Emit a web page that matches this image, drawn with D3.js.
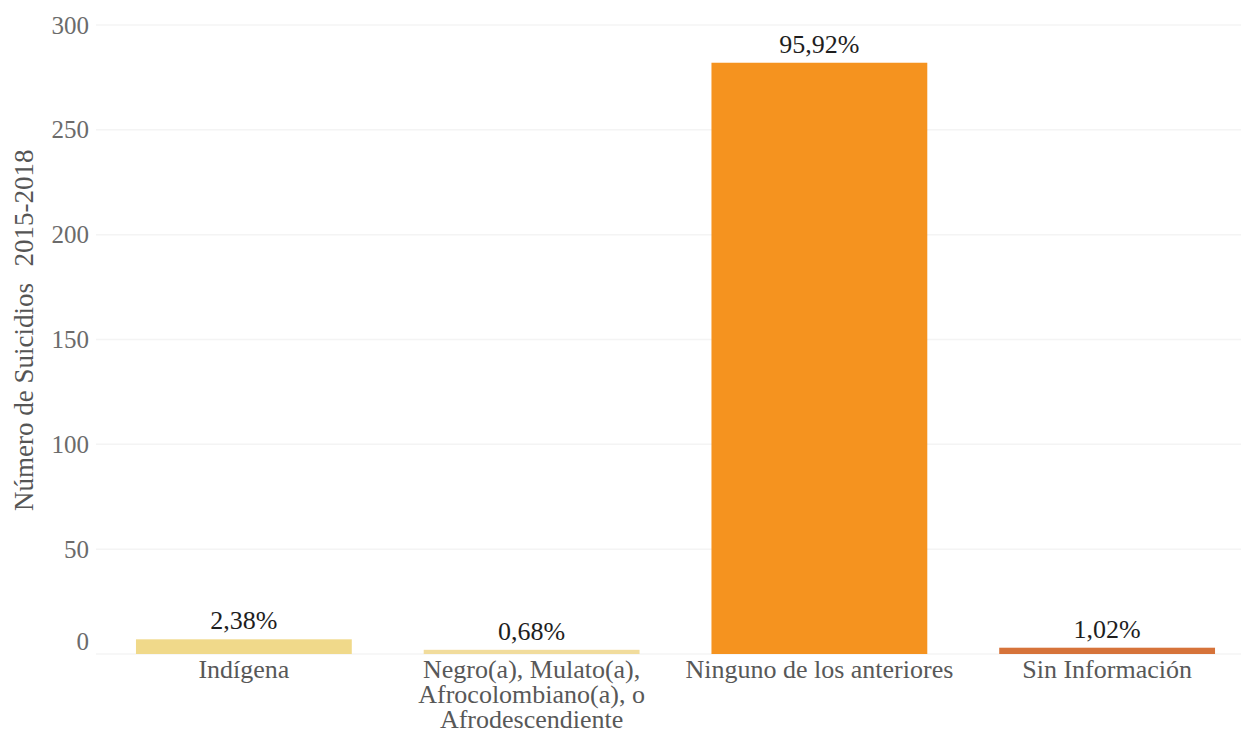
<!DOCTYPE html>
<html>
<head>
<meta charset="utf-8">
<script src="https://cdn.jsdelivr.net/npm/d3@7"></script>
<style>
  html, body { margin: 0; padding: 0; background: #fff; }
  svg { display: block; font-family: "Liberation Serif", "DejaVu Serif", serif; }
</style>
</head>
<body>
<svg id="chart" width="1241" height="738"></svg>
<script>
// Suicidios 2015-2018 por pertenencia étnica
const categories = [
  ["Indígena"],
  ["Negro(a), Mulato(a),", "Afrocolombiano(a), o", "Afrodescendiente"],
  ["Ninguno de los anteriores"],
  ["Sin Información"]
];
const values = [7, 2, 282, 3];
const percentLabels = ["2,38%", "0,68%", "95,92%", "1,02%"];
const colors = ["#f0d98a", "#f1dc9c", "#f5931f", "#d6733a"];
const yTicks = [0, 50, 100, 150, 200, 250, 300];

const svg = d3.select("#chart");

const x = d3.scaleBand()
  .domain(d3.range(values.length))
  .range([100, 1251])
  .paddingInner(0.25)
  .paddingOuter(0.125);

const y = d3.scaleLinear()
  .domain([0, 300])
  .range([654, 25]);

// horizontal gridlines
svg.append("g")
  .selectAll("line")
  .data(yTicks)
  .join("line")
  .attr("x1", 96)
  .attr("x2", 1241)
  .attr("y1", d => y(d))
  .attr("y2", d => y(d))
  .attr("stroke", "#f4f4f4")
  .attr("stroke-width", 1.5);

// y axis labels
const yAxis = svg.append("g")
  .attr("transform", "translate(89,0)")
  .call(d3.axisLeft(y).tickValues(yTicks).tickSize(0).tickPadding(0));
yAxis.select(".domain").remove();
yAxis.selectAll("text")
  .attr("font-family", "Liberation Serif, serif")
  .attr("font-size", 25)
  .attr("fill", "#6b6b6b")
  .attr("dy", d => d === 0 ? "-0.2em" : "0.32em");

// y axis title
const title = svg.append("text")
  .attr("transform", "translate(33,0) rotate(-90)")
  .attr("font-size", 27)
  .attr("fill", "#555");
title.append("tspan")
  .attr("x", -397)
  .attr("text-anchor", "middle")
  .text("Número de Suicidios");
title.append("tspan")
  .attr("x", -208)
  .attr("text-anchor", "middle")
  .text("2015-2018");

// bars
svg.append("g")
  .selectAll("rect")
  .data(values)
  .join("rect")
  .attr("x", (d, i) => x(i))
  .attr("width", x.bandwidth())
  .attr("y", d => y(d))
  .attr("height", d => y(0) - y(d))
  .attr("fill", (d, i) => colors[i]);

// value labels
svg.append("g")
  .selectAll("text")
  .data(values)
  .join("text")
  .attr("x", (d, i) => x(i) + x.bandwidth() / 2)
  .attr("y", d => y(d) - 10)
  .attr("text-anchor", "middle")
  .attr("font-size", 26)
  .attr("fill", "#1e1e1e")
  .text((d, i) => percentLabels[i]);

// category labels
const cat = svg.append("g")
  .selectAll("text")
  .data(categories)
  .join("text")
  .attr("x", (d, i) => x(i) + x.bandwidth() / 2)
  .attr("y", 678)
  .attr("text-anchor", "middle")
  .attr("font-size", 26)
  .attr("fill", "#585858");
cat.selectAll("tspan")
  .data((d, i) => d.map(t => ({ t, i })))
  .join("tspan")
  .attr("x", d => x(d.i) + x.bandwidth() / 2)
  .attr("dy", (d, j) => j === 0 ? 0 : 25)
  .text(d => d.t);
</script>
</body>
</html>
